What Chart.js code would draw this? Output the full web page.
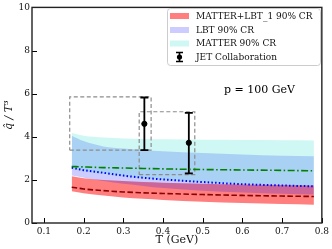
<!DOCTYPE html>
<html>
<head>
<meta charset="utf-8">
<script src="https://cdn.jsdelivr.net/npm/chart.js@4.4.0/dist/chart.umd.min.js"></script>
<style>
  html, body { margin: 0; padding: 0; background: #fff; }
  #wrap { width: 332px; height: 249px; }
</style>
</head>
<body>
<div id="wrap"><canvas id="c" width="332" height="249"></canvas></div>
<script>
// temperature grid (GeV) for the bands
const temps = [0.17, 0.2, 0.25, 0.3, 0.35, 0.4, 0.5, 0.6, 0.7, 0.78];

// MATTER+LBT_1 90% CR
const mlLow = [1.47, 1.38, 1.27, 1.18, 1.12, 1.07, 0.99, 0.93, 0.88, 0.85];
const mlHigh = [2.17, 2.08, 2.0, 1.95, 1.9, 1.87, 1.82, 1.78, 1.76, 1.74];
const mlMed = [1.66, 1.58, 1.5, 1.44, 1.4, 1.37, 1.32, 1.28, 1.25, 1.23];

// LBT 90% CR
const lbtLow = [2.2, 2.1, 1.95, 1.82, 1.72, 1.62, 1.5, 1.42, 1.36, 1.32];
const lbtHigh = [4.05, 3.8, 3.55, 3.45, 3.38, 3.33, 3.25, 3.18, 3.12, 3.1];
const lbtMed = [2.57, 2.45, 2.33, 2.2, 2.1, 2.02, 1.9, 1.8, 1.74, 1.7];

// MATTER 90% CR
const matLow = [2.5, 2.4, 2.28, 2.17, 2.07, 2.0, 1.88, 1.8, 1.75, 1.72];
const matHigh = [4.17, 4.05, 3.97, 3.92, 3.9, 3.88, 3.86, 3.85, 3.84, 3.83];
const matMed = [2.62, 2.6, 2.57, 2.55, 2.53, 2.51, 2.48, 2.46, 2.44, 2.42];

// JET Collaboration
const jetT = [0.353, 0.465];
const jetQ = [4.6, 3.72];
const jetLo = [3.38, 2.3];
const jetHi = [5.82, 5.11];

// dashed boxes: [T left, T right], [q low, q high]
const boxT = [[0.165, 0.37], [0.34, 0.48]];
const boxQ = [[3.38, 5.85], [2.24, 5.16]];

const xTicks = [0.1, 0.2, 0.3, 0.4, 0.5, 0.6, 0.7, 0.8];
const yTicks = [0, 2, 4, 6, 8, 10];

const legendLabels = ['MATTER+LBT_1 90% CR', 'LBT 90% CR', 'MATTER 90% CR', 'JET Collaboration'];

const RED = 'rgba(255,0,0,0.5)';
const BLUE = 'rgba(0,0,255,0.2)';
const CYAN = 'rgba(64,224,208,0.25)';
const FONT = "'DejaVu Serif', serif";

function pts(ys) {
    return temps.map((t, i) => ({x: t, y: ys[i]}));
}

function boxPts(k) {
    const [l, r] = boxT[k];
    const [b, t] = boxQ[k];
    return [{x: l, y: b}, {x: r, y: b}, {x: r, y: t}, {x: l, y: t}, {x: l, y: b}];
}

const smooth = {pointRadius: 0, cubicInterpolationMode: 'monotone'};

const datasets = [
    {data: pts(matMed), borderColor: 'green', borderWidth: 1.6, borderDash: [7, 2.5, 1.5, 2.5], fill: false, order: 0, ...smooth},
    {data: pts(lbtMed), borderColor: 'blue', borderWidth: 2, borderDash: [1.5, 2.2], fill: false, order: 0, ...smooth},
    {data: pts(mlMed), borderColor: '#8b0000', borderWidth: 1.6, borderDash: [5.5, 2.5], fill: false, order: 0, ...smooth},
    {type: 'scatter', data: jetT.map((t, i) => ({x: t, y: jetQ[i]})), backgroundColor: 'black', borderColor: 'black', pointRadius: 2.6, order: 1},
    {data: boxPts(0), borderColor: '#8c8c8c', borderWidth: 1.2, borderDash: [4, 2.5], pointRadius: 0, fill: false, order: 2},
    {data: boxPts(1), borderColor: '#8c8c8c', borderWidth: 1.2, borderDash: [4, 2.5], pointRadius: 0, fill: false, order: 2},
    {data: pts(matHigh), backgroundColor: CYAN, borderWidth: 0, fill: '+1', order: 3, ...smooth},
    {data: pts(matLow), borderWidth: 0, fill: false, order: 3, ...smooth},
    {data: pts(lbtHigh), backgroundColor: BLUE, borderWidth: 0, fill: '+1', order: 4, ...smooth},
    {data: pts(lbtLow), borderWidth: 0, fill: false, order: 4, ...smooth},
    {data: pts(mlHigh), backgroundColor: RED, borderWidth: 0, fill: '+1', order: 5, ...smooth},
    {data: pts(mlLow), borderWidth: 0, fill: false, order: 5, ...smooth}
];

const errorBars = {
    id: 'errorBars',
    beforeDatasetDraw(chart, args) {
        if (args.index !== 3) return;
        const {ctx, scales: {x, y}} = chart;
        ctx.save();
        ctx.strokeStyle = 'black';
        ctx.lineWidth = 1.8;
        jetT.forEach((t, i) => {
            const px = x.getPixelForValue(t);
            const top = y.getPixelForValue(jetHi[i]);
            const bot = y.getPixelForValue(jetLo[i]);
            ctx.beginPath();
            ctx.moveTo(px, top); ctx.lineTo(px, bot);
            ctx.moveTo(px - 4, top); ctx.lineTo(px + 4, top);
            ctx.moveTo(px - 4, bot); ctx.lineTo(px + 4, bot);
            ctx.stroke();
        });
        ctx.restore();
    }
};

const frame = {
    id: 'frame',
    afterDraw(chart) {
        const {ctx, chartArea: a, scales: {x, y}} = chart;
        ctx.save();
        ctx.strokeStyle = 'black';
        ctx.lineWidth = 1;
        ctx.beginPath();
        xTicks.forEach(v => {
            const px = Math.round(x.getPixelForValue(v)) + 0.5;
            ctx.moveTo(px, a.bottom); ctx.lineTo(px, a.bottom - 5);
        });
        yTicks.forEach(v => {
            const py = Math.round(y.getPixelForValue(v)) + 0.5;
            ctx.moveTo(a.left, py); ctx.lineTo(a.left + 5, py);
        });
        ctx.stroke();
        ctx.lineWidth = 1.4;
        ctx.strokeStyle = '#222';
        ctx.strokeRect(a.left, a.top, a.right - a.left, a.bottom - a.top);

        // annotation
        ctx.fillStyle = 'black';
        ctx.font = '11px ' + FONT;
        ctx.textAlign = 'center';
        ctx.textBaseline = 'middle';
        ctx.fillText('p = 100 GeV', x.getPixelForValue(0.643), y.getPixelForValue(6.15));

        // legend
        ctx.fillStyle = 'rgba(255,255,255,0.85)';
        ctx.strokeStyle = '#cccccc';
        ctx.lineWidth = 1;
        ctx.beginPath();
        ctx.roundRect(167.5, 8.5, 153, 57, 3);
        ctx.fill();
        ctx.stroke();
        const rows = [16, 30, 43.5, 57];
        const swatch = [RED, BLUE, CYAN];
        ctx.font = '9px ' + FONT;
        ctx.textAlign = 'left';
        legendLabels.forEach((lab, i) => {
            if (i < 3) {
                ctx.fillStyle = swatch[i];
                ctx.fillRect(170, rows[i] - 3, 19, 6);
            } else {
                ctx.strokeStyle = 'black';
                ctx.lineWidth = 1.6;
                ctx.beginPath();
                ctx.moveTo(179.5, rows[i] - 4.5); ctx.lineTo(179.5, rows[i] + 4.5);
                ctx.moveTo(176, rows[i] - 4.5); ctx.lineTo(183, rows[i] - 4.5);
                ctx.moveTo(176, rows[i] + 4.5); ctx.lineTo(183, rows[i] + 4.5);
                ctx.stroke();
                ctx.fillStyle = 'black';
                ctx.beginPath();
                ctx.arc(179.5, rows[i], 2.6, 0, Math.PI * 2);
                ctx.fill();
            }
            ctx.fillStyle = '#111';
            ctx.fillText(lab, 196, rows[i] + 0.5);
        });
        ctx.restore();
    }
};

new Chart(document.getElementById('c'), {
    type: 'line',
    data: {datasets: datasets},
    options: {
        responsive: false,
        animation: false,
        layout: {padding: {top: 4, right: 9, left: 0, bottom: 0}},
        plugins: {legend: {display: false}, tooltip: {enabled: false}},
        scales: {
            x: {
                type: 'linear',
                min: 0.07,
                max: 0.8,
                grid: {display: false, drawTicks: false},
                border: {display: false},
                afterBuildTicks: s => { s.ticks = xTicks.map(v => ({value: v})); },
                afterFit: s => { s.height = 26; },
                ticks: {
                    color: '#111',
                    font: {family: FONT, size: 9},
                    padding: 3,
                    maxRotation: 0,
                    callback: v => v.toFixed(1)
                },
                title: {display: true, text: 'T (GeV)', color: '#111', font: {family: FONT, size: 11}, padding: {top: 0, bottom: 2}}
            },
            y: {
                min: 0,
                max: 10,
                grid: {display: false, drawTicks: false},
                border: {display: false},
                afterBuildTicks: s => { s.ticks = yTicks.map(v => ({value: v})); },
                afterFit: s => { s.width = 32; },
                ticks: {
                    color: '#111',
                    font: {family: FONT, size: 9},
                    padding: 2,
                    callback: v => String(v)
                },
                title: {display: true, text: 'q\u0302 / T\u00b3', color: '#111', font: {family: FONT, size: 11, style: 'italic'}, padding: {top: 3, bottom: 0}}
            }
        }
    },
    plugins: [errorBars, frame]
});
</script>
</body>
</html>
